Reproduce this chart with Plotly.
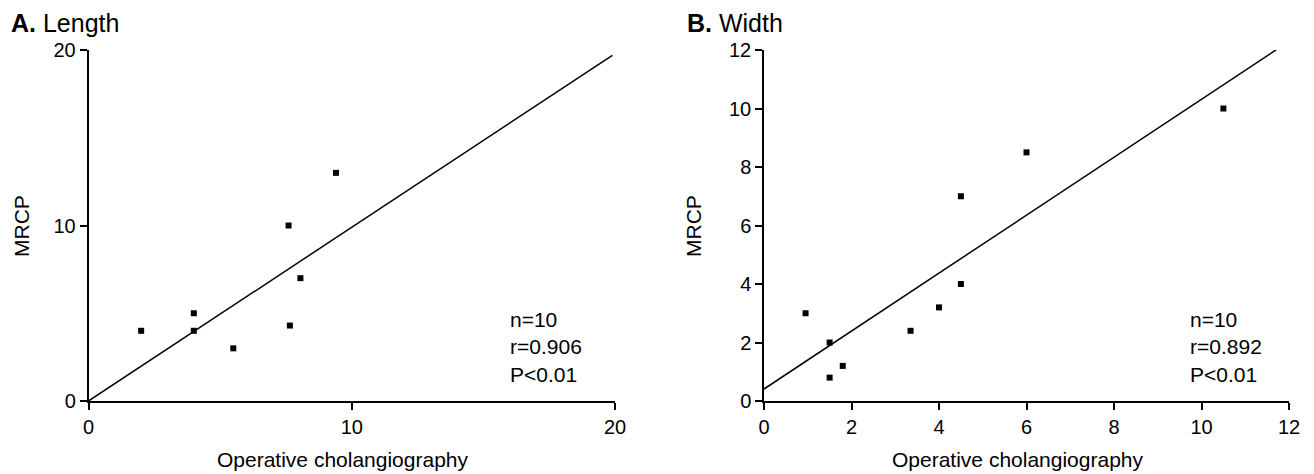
import plotly.graph_objects as go

# Panel A: Length
len_x = [2, 4, 4, 5.5, 7.6, 7.65, 8.05, 9.4, 20.2]
len_y = [4, 5, 4, 3, 10, 4.3, 7, 13, 20]
len_line_x = [0, 19.9]
len_line_y = [0, 19.7]

# Panel B: Width
wid_x = [0.95, 1.5, 1.5, 1.8, 3.35, 4.0, 4.5, 4.5, 6.0, 10.5]
wid_y = [3.0, 2.0, 0.8, 1.2, 2.4, 3.2, 4.0, 7.0, 8.5, 10.0]
wid_line_x = [0, 11.73]
wid_line_y = [0.41, 12.03]

len_ticks = [0, 10, 20]
wid_ticks = [0, 2, 4, 6, 8, 10, 12]

FONT = "Liberation Sans, Arial, Helvetica, sans-serif"
W, H = 1314, 474
OFF = 8  # page body margin offset


def px(x):
    return (x - OFF) / W


def py(y):
    return 1 - (y - OFF) / H


fig = go.Figure()
fig.add_trace(go.Scatter(x=len_line_x, y=len_line_y, mode="lines",
                         line=dict(color="black", width=1.5), xaxis="x", yaxis="y",
                         showlegend=False, hoverinfo="skip"))
fig.add_trace(go.Scatter(x=len_x, y=len_y, mode="markers",
                         marker=dict(symbol="square", size=6, color="black"),
                         xaxis="x", yaxis="y", showlegend=False, cliponaxis=False))
fig.add_trace(go.Scatter(x=wid_line_x, y=wid_line_y, mode="lines",
                         line=dict(color="black", width=1.5), xaxis="x2", yaxis="y2",
                         showlegend=False, hoverinfo="skip"))
fig.add_trace(go.Scatter(x=wid_x, y=wid_y, mode="markers",
                         marker=dict(symbol="square", size=6, color="black"),
                         xaxis="x2", yaxis="y2", showlegend=False, cliponaxis=False))

ydom = [py(401), py(50)]
axis_common = dict(showline=True, linecolor="black", linewidth=1.5, ticks="outside",
                   ticklen=7, tickwidth=1.5, tickcolor="black", showgrid=False,
                   zeroline=False, mirror=False, automargin=False,
                   tickfont=dict(family=FONT, size=20, color="black"))

fig.update_layout(
    width=W, height=H, margin=dict(l=0, r=0, t=0, b=0, pad=0, autoexpand=False),
    paper_bgcolor="white", plot_bgcolor="white",
    font=dict(family=FONT, color="black"),
    xaxis=dict(domain=[px(88.5), px(615)], range=[0, 20], tickvals=len_ticks,
               anchor="y", **axis_common),
    yaxis=dict(domain=ydom, range=[0, 20], tickvals=len_ticks, anchor="x", **axis_common),
    xaxis2=dict(domain=[px(764), px(1289)], range=[0, 12], tickvals=wid_ticks,
                anchor="y2", **axis_common),
    yaxis2=dict(domain=ydom, range=[0, 12], tickvals=wid_ticks, anchor="x2", **axis_common),
)


def ann(text, x, y, size, xanchor="center", yanchor="middle", angle=0, align="left", yabs=None):
    fig.add_annotation(text=text, x=px(x), y=py(y) if yabs is None else yabs,
                       xref="paper", yref="paper",
                       showarrow=False, xanchor=xanchor, yanchor=yanchor, textangle=angle,
                       align=align, borderpad=0,
                       font=dict(family=FONT, size=size, color="black"))


ann("<b>A.</b> Length", 10, 0, 25, xanchor="left", yanchor="top", yabs=1)
ann("<b>B.</b> Width", 686, 0, 25, xanchor="left", yanchor="top", yabs=1)
ann("MRCP", 22, 226, 21, angle=-90)
ann("MRCP", 694, 226, 21, angle=-90)
ann("Operative cholangiography", 342, 459, 21)
ann("Operative cholangiography", 1017, 459, 21)
ann("n=10<br>r=0.906<br>P<0.01", 509, 347, 21, xanchor="left")
ann("n=10<br>r=0.892<br>P<0.01", 1189, 347, 21, xanchor="left")

fig.write_html("out.html")
